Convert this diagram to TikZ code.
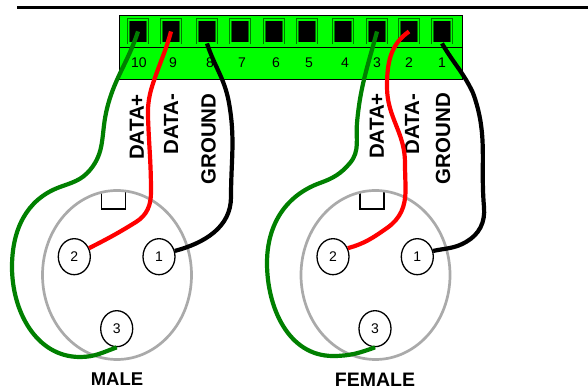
\documentclass[tikz,border=0pt]{standalone}
\usepackage{xcolor}
\usepackage{fontspec}
\setmainfont{Liberation Sans}
\usetikzlibrary{shapes.geometric}
\definecolor{wiregreen}{RGB}{0,128,0}
\definecolor{shellgray}{RGB}{170,170,170}
\definecolor{blockgreen}{RGB}{0,255,0}
\definecolor{ringgreen}{RGB}{0,120,0}
\tikzset{
    hole/.style={draw=ringgreen,double=blockgreen,line width=0.7pt,double distance=1.4pt,fill=black,inner sep=0pt,minimum width=18.7pt,minimum height=23.2pt},
    num/.style={inner sep=0pt,font=\fontsize{14}{15}\selectfont},
    shell/.style={draw=shellgray,line width=2.7pt,ellipse,inner sep=0pt,minimum width=149pt,minimum height=169pt},
    pin/.style={draw,fill=white,line width=1.3pt,ellipse,inner sep=0pt,minimum width=32pt,minimum height=36pt,font=\fontsize{14}{15}\selectfont},
    wire/.style={line width=4.2pt},
    side/.style={rotate=90,inner sep=0pt,font=\fontsize{20.5}{21}\selectfont\bfseries}
}
\begin{document}
\begin{tikzpicture}[x=1pt,y=1pt]
    \useasboundingbox (0,0) rectangle (588,390);
    \draw[line width=3pt] (17,382.5) -- (588,382.5);
    \node[draw,fill=blockgreen,line width=0.9pt,inner sep=0pt,minimum width=342.5pt,minimum height=63.5pt] (block) at (290.75,342.75) {};
    \draw[line width=0.9pt] (119.5,343) -- (462,343);
    \node[hole] (h10) at (138,358.5) {};
    \node[hole] (h9) at (171,358.5) {};
    \node[hole] (h8) at (207,358.5) {};
    \node[hole] (h7) at (240,358.5) {};
    \node[hole] (h6) at (274,358.5) {};
    \node[hole] (h5) at (307,358.5) {};
    \node[hole] (h4) at (343,358.5) {};
    \node[hole] (h3) at (377,358.5) {};
    \node[hole] (h2) at (409,358.5) {};
    \node[hole] (h1) at (442,358.5) {};
    \node[num] (n10) at (139,327) {10};
    \node[num] (n9) at (173,327) {9};
    \node[num] (n8) at (210,327) {8};
    \node[num] (n7) at (242,327) {7};
    \node[num] (n6) at (276,327) {6};
    \node[num] (n5) at (309,327) {5};
    \node[num] (n4) at (345,327) {4};
    \node[num] (n3) at (377,327) {3};
    \node[num] (n2) at (409,327) {2};
    \node[num] (n1) at (442,327) {1};
    \node[side] (dpm) at (136.7,263) {DATA+};
    \node[side] (dmm) at (171,266) {DATA-};
    \node[side] (gm) at (208.5,251) {GROUND};
    \node[side] (dpf) at (376.7,264) {DATA+};
    \node[side] (dmf) at (412,266) {DATA-};
    \node[side] (gf) at (443,251.5) {GROUND};
    % male connector
    \draw[line width=1.2pt] (101.7,198) -- (101.7,181) -- (125.7,181) -- (125.7,198);
    \node[shell] (male) at (117,115) {};
    \node[pin] (m2) at (74.3,133.3) {2};
    \node[pin] (m1) at (159,133.3) {1};
    \node[pin] (m3) at (116.7,61.3) {3};
    \node[inner sep=0pt,font=\fontsize{18.5}{19}\selectfont\bfseries] (lm) at (117,10.5) {MALE};
    % female connector
    \draw[line width=1.2pt] (360,198) -- (360,181) -- (384,181) -- (384,198);
    \node[shell] (female) at (375.5,115) {};
    \node[pin] (f2) at (333,133.3) {2};
    \node[pin] (f1) at (417.3,133.3) {1};
    \node[pin] (f3) at (375,61.3) {3};
    \node[inner sep=0pt,font=\fontsize{19.5}{20}\selectfont\bfseries] (lf) at (375,10.5) {FEMALE};
    % wires
    \draw[wire,wiregreen] (h10.center) to [out=-108,in=78] (106,277) to [out=-102,in=50] (90,220) to [out=-130,in=20] (60,203) to [out=-160,in=90] (12,123) to [out=-90,in=180] (80,33) to [out=0,in=200] (m3.south);
    \draw[wire,red] (h9.center) to [out=-105,in=70] (157,318) to [out=-110,in=92] (148,273) to [out=-88,in=90] (151,198) to [out=-90,in=32] (136,168) to [out=-148,in=27] (m2.30);
    \draw[wire,black] (h8.south) to [out=-72,in=100] (229,287) to [out=-80,in=90] (231,193) to [out=-90,in=15] (m1.20);
    \draw[wire,wiregreen] (h3.center) to [out=-105,in=85] (357,267) to [out=-95,in=50] (350,227) to [out=-130,in=20] (320,207) to [out=-160,in=90] (267,127) to [out=-90,in=180] (333,34) to [out=0,in=200] (f3.south);
    \draw[wire,red] (h2.center) to [out=-145,in=90] (387,303) to [out=-90,in=90] (405,227) to [out=-90,in=90] (405.5,200) to [out=-90,in=35] (387,162) to [out=-145,in=15] (f2.30);
    \draw[wire,black] (h1.south) to [out=-60,in=115] (473,297) to [out=-70,in=95] (484,183) to [out=-85,in=30] (466,148) to [out=-150,in=12] (f1.20);
\end{tikzpicture}
\end{document}
